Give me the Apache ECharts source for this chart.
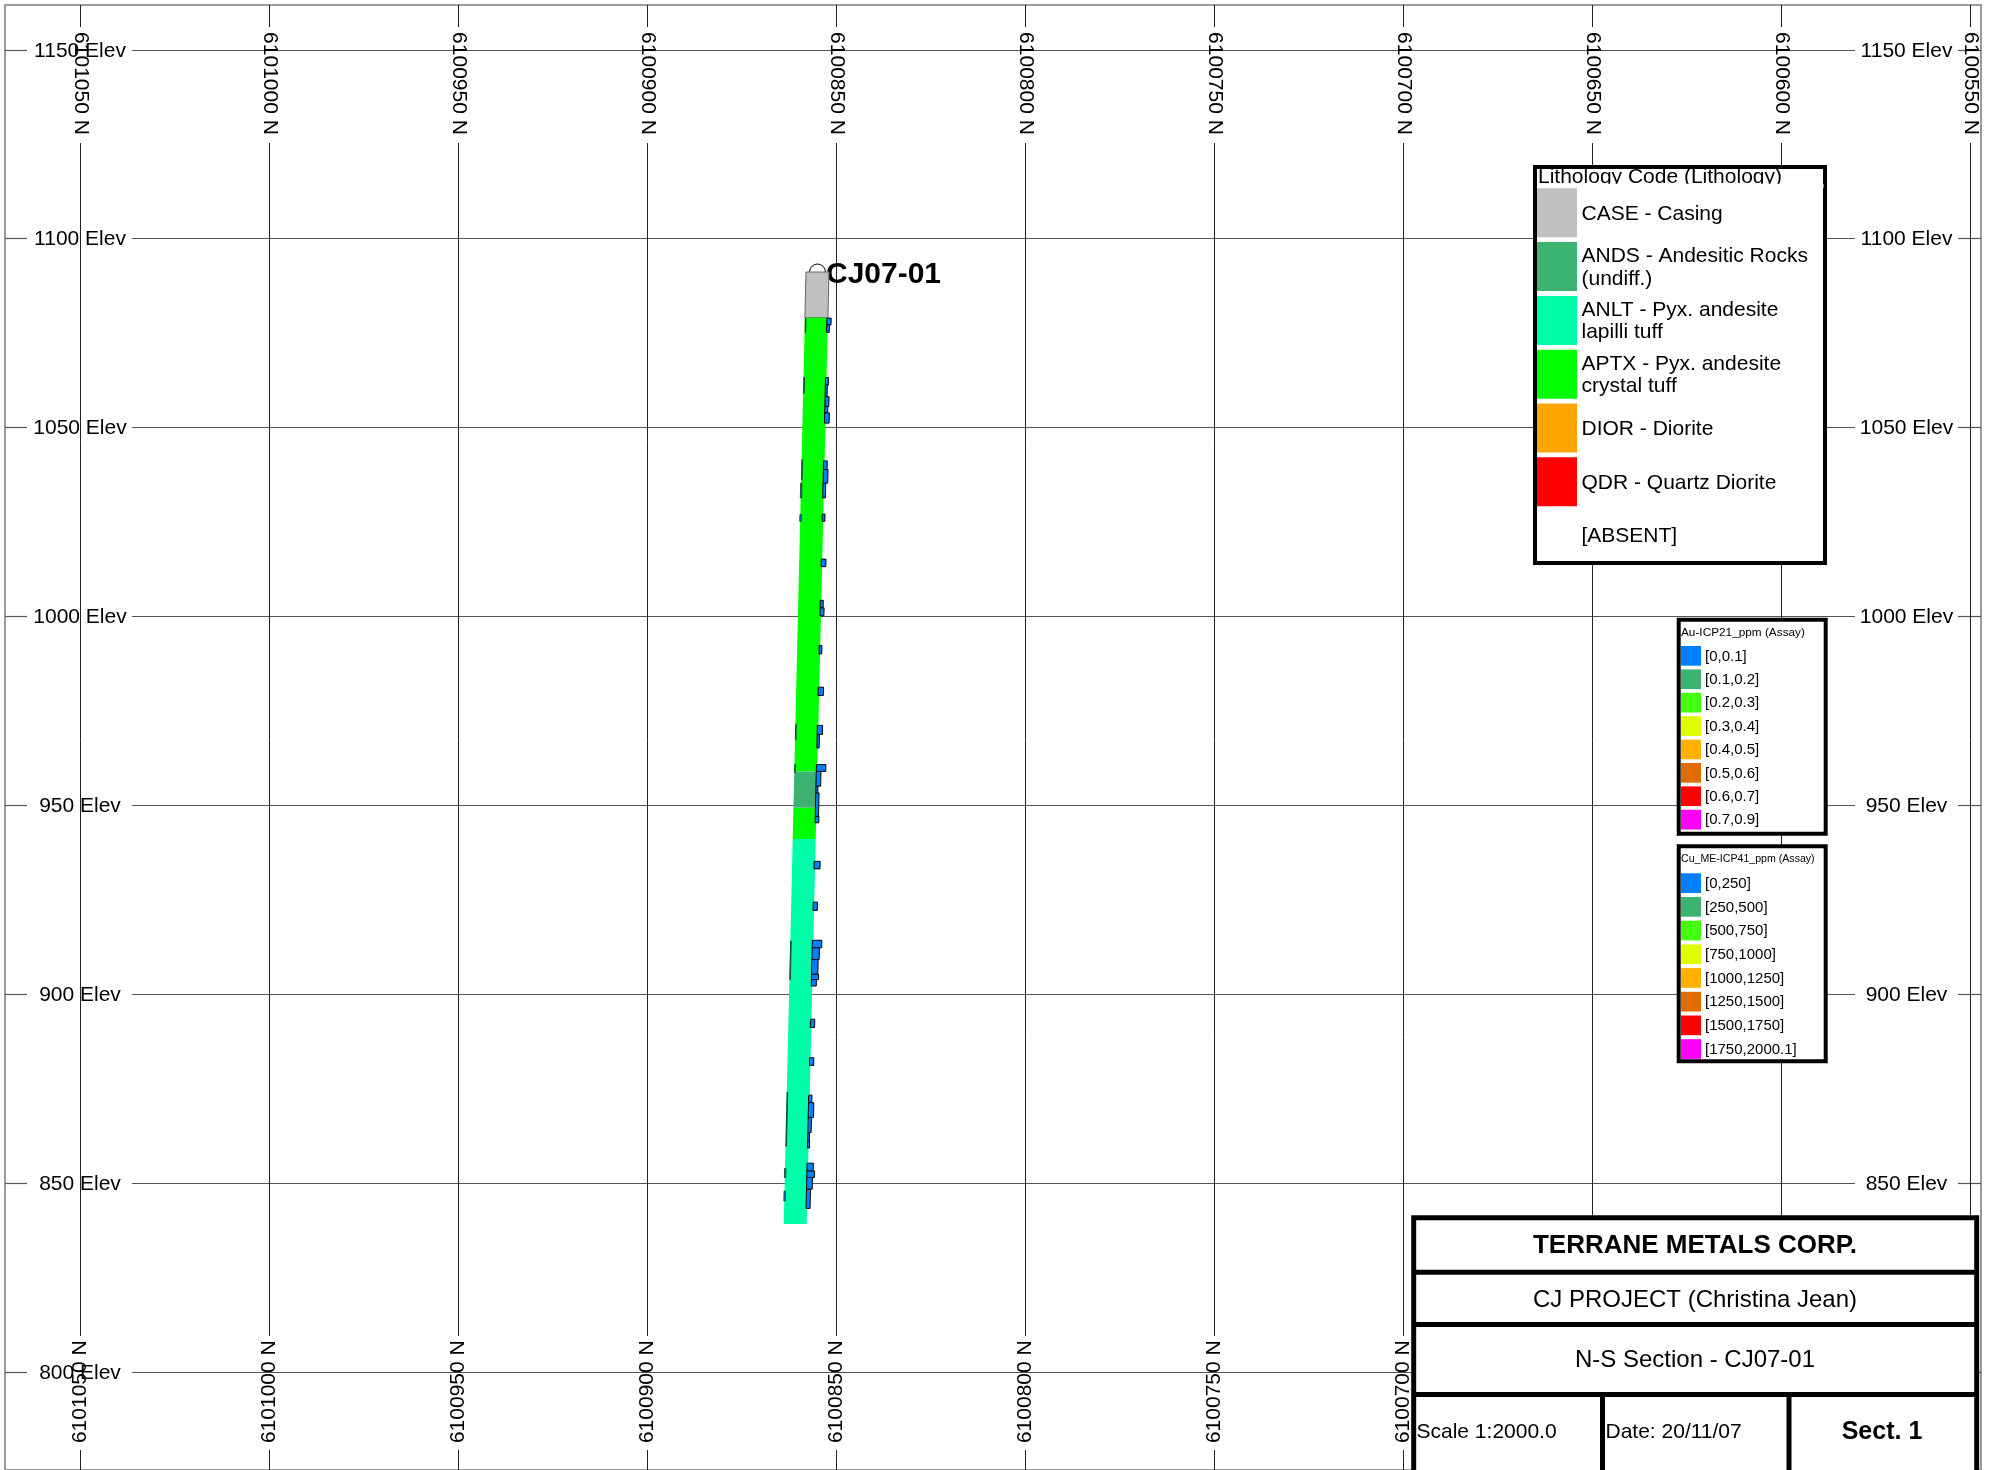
<!DOCTYPE html>
<html>
<head>
<meta charset="utf-8">
<title>N-S Section - CJ07-01</title>
<script src="https://cdn.jsdelivr.net/npm/echarts@6/dist/echarts.min.js"></script>
<style>
html,body{margin:0;padding:0;background:#fff;}
#chart{width:1991px;height:1470px;}
</style>
</head>
<body>
<div id="chart"></div>
<script>
// ---------- axes / section grid ----------
const northTicks = [6101050, 6101000, 6100950, 6100900, 6100850, 6100800, 6100750, 6100700, 6100650, 6100600, 6100550];
const northTickLabels = ['6101050 N', '6101000 N', '6100950 N', '6100900 N', '6100850 N', '6100800 N', '6100750 N', '6100700 N', '6100650 N', '6100600 N', '6100550 N'];
const elevTicks = [1150, 1100, 1050, 1000, 950, 900, 850, 800];
const elevTickLabels = ['1150 Elev', '1100 Elev', '1050 Elev', '1000 Elev', '950 Elev', '900 Elev', '850 Elev', '800 Elev'];
const northRange = [6100547.09, 6101069.84];
const elevRange = [773.98, 1161.78];

// ---------- drill hole ----------
const holeName = 'CJ07-01';
const holeCollar = [6100854.9, 1091.1];   // [northing, elevation]
const holeToe = [6100860.8, 839.1];

// ---------- lithology ----------
const lithoCodes = ['CASE', 'ANDS', 'ANLT', 'APTX', 'DIOR', 'QDR', 'ABSENT'];
const lithoLabels = ['CASE - Casing', 'ANDS - Andesitic Rocks\n(undiff.)', 'ANLT - Pyx. andesite\nlapilli tuff', 'APTX - Pyx. andesite\ncrystal tuff', 'DIOR - Diorite', 'QDR - Quartz Diorite', '[ABSENT]'];
const lithoColors = ['#C0C0C0', '#3CB371', '#00FFAA', '#00FF00', '#FFA500', '#FF0000', '#FFFFFF'];
const lithoFrom = [1091.1, 1079.0, 958.9, 949.3, 941.0];
const lithoTo   = [1079.0, 958.9, 949.3, 941.0, 839.1];
const lithoCode = ['CASE', 'APTX', 'ANDS', 'APTX', 'ANLT'];

// ---------- Au assays (ppm), drawn right of trace ----------
const auFrom = [1078.9, 1077.1, 1063.2, 1061.2, 1058.1, 1055.5, 1053.8, 1041.1, 1038.8, 1035.2, 1027.0, 1015.1, 1004.2, 1002.2, 992.2, 981.2, 971.1, 968.7, 960.7, 958.9, 955.0, 953.2, 947.0, 935.1, 924.3, 914.2, 912.2, 909.1, 905.2, 903.8, 893.3, 883.1, 873.2, 871.2, 867.3, 863.3, 861.1, 855.2, 853.1, 851.4, 848.3];
const auTo   = [1077.1, 1075.1, 1061.2, 1058.1, 1055.5, 1053.8, 1051.1, 1038.8, 1035.2, 1031.3, 1025.1, 1013.1, 1002.2, 1000.1, 990.0, 979.0, 968.7, 965.1, 958.9, 955.0, 953.2, 947.0, 945.3, 933.1, 922.1, 912.2, 909.1, 905.2, 903.8, 902.1, 891.1, 881.1, 871.2, 867.3, 863.3, 861.1, 859.2, 853.1, 851.4, 848.3, 843.2];
const auValue = [0.043, 0.027, 0.030, 0.020, 0.040, 0.030, 0.047, 0.037, 0.047, 0.027, 0.027, 0.047, 0.030, 0.040, 0.027, 0.053, 0.053, 0.023, 0.095, 0.047, 0.020, 0.033, 0.037, 0.060, 0.043, 0.095, 0.073, 0.063, 0.070, 0.050, 0.043, 0.043, 0.033, 0.053, 0.033, 0.017, 0.020, 0.063, 0.077, 0.057, 0.040];

// ---------- Cu assays (ppm), drawn left of trace ----------
const cuFrom = [1078.9, 1063.2, 1041.4, 1035.2, 1026.9, 971.3, 960.7, 914.0, 874.0, 853.8, 847.8];
const cuTo   = [1075.1, 1059.0, 1036.1, 1031.3, 1025.1, 967.3, 958.6, 903.8, 859.7, 851.4, 845.2];
const cuValue = [35, 50, 50, 100, 100, 50, 45, 50, 50, 100, 100];

// ---------- legend classes ----------
const auBinLabels = ['[0,0.1]', '[0.1,0.2]', '[0.2,0.3]', '[0.3,0.4]', '[0.4,0.5]', '[0.5,0.6]', '[0.6,0.7]', '[0.7,0.9]'];
const auBinEdges = [0, 0.1, 0.2, 0.3, 0.4, 0.5, 0.6, 0.7, 0.9];
const cuBinLabels = ['[0,250]', '[250,500]', '[500,750]', '[750,1000]', '[1000,1250]', '[1250,1500]', '[1500,1750]', '[1750,2000.1]'];
const cuBinEdges = [0, 250, 500, 750, 1000, 1250, 1500, 1750, 2000.1];
const binColors = ['#0080FF', '#3CB371', '#44FF10', '#DDFF00', '#FFB000', '#E06C00', '#FF0000', '#FF00FF'];

// ---------- title block ----------
const titleCompany = 'TERRANE METALS CORP.';
const titleProject = 'CJ PROJECT (Christina Jean)';
const titleSection = 'N-S Section - CJ07-01';
const titleScale = 'Scale 1:2000.0';
const titleDate = 'Date: 20/11/07';
const titleSect = 'Sect. 1';

// ================= styling constants =================
const FONT = "'Liberation Sans', Arial, Helvetica, sans-serif";
const BAND_HALF = 11.5;          // px half width of lithology band
const AU_PX_PER_PPM = 100;
const CU_PX_PER_PPM = 0.014;
const H_GAPS = [[27, 132], [1855, 1958]];
const H_LABEL_X = [80, 1906.5];
const V_GAPS = [[27, 143], [1336, 1450]];
const V_LABEL_Y = [83.5, 1391.7];

function traceN(e) {
  return holeCollar[0] + (holeCollar[1] - e) / (holeCollar[1] - holeToe[1]) * (holeToe[0] - holeCollar[0]);
}
function binColor(v, edges) {
  for (let i = 0; i < edges.length - 1; i++) {
    if (v >= edges[i] && v <= edges[i + 1]) return binColors[i];
  }
  return binColors[binColors.length - 1];
}
function segmentsBetween(a, b, gaps) {
  const out = [];
  let s = a;
  gaps.forEach(g => { if (g[0] > s) out.push([s, g[0]]); s = Math.max(s, g[1]); });
  if (b > s) out.push([s, b]);
  return out;
}
function tstyle(text, size, extra, weight) {
  return Object.assign({
    text: text, fill: '#000', font: (weight ? weight + ' ' : '') + size + 'px ' + FONT,
    align: 'left', verticalAlign: 'middle', textAlign: 'left', textVerticalAlign: 'middle'
  }, extra || {});
}

const chart = echarts.init(document.getElementById('chart'), null, { renderer: 'canvas' });

// ----- graphic: legends and title block -----
const G = [];
const Z = 100;
function grect(x, y, w, h, style, z) { G.push({ type: 'rect', z: z || Z, shape: { x: x, y: y, width: w, height: h }, style: style }); }
function gtext(x, y, text, size, extra, z, weight) { G.push({ type: 'text', z: z || Z + 2, x: x, y: y, style: tstyle(text, size, extra, weight) }); }
function gline(x1, y1, x2, y2, w) { G.push({ type: 'line', z: Z + 1, shape: { x1: x1, y1: y1, x2: x2, y2: y2 }, style: { stroke: '#000', lineWidth: w } }); }
const CENTER = { align: 'center', textAlign: 'center' };

// Lithology legend
grect(1535, 167, 290, 396, { fill: '#fff', stroke: '#000', lineWidth: 4 });
gtext(1538, 177, 'Lithology Code (Lithology)', 21);
grect(1537.5, 183.8, 286, 4.4, { fill: '#fff' }, Z + 3);
lithoCodes.forEach((c, i) => {
  const top = 188.3 + i * 53.8;
  grect(1537, top, 40, 49, { fill: lithoColors[i] }, Z + 4);
  gtext(1581.5, top + 25.5, lithoLabels[i], 21, { lineHeight: 22.6 }, Z + 4);
});

// Au legend
grect(1678.7, 619.7, 147, 214, { fill: '#fff', stroke: '#000', lineWidth: 4 });
gtext(1681, 632.5, 'Au-ICP21_ppm (Assay)', 11.8);
auBinLabels.forEach((l, i) => {
  const top = 646 + i * 23.4;
  grect(1681, top, 20, 19.7, { fill: binColors[i] }, Z + 2);
  gtext(1705, top + 10.5, l, 15);
});

// Cu legend
grect(1678.7, 846.3, 147, 215, { fill: '#fff', stroke: '#000', lineWidth: 4 });
gtext(1681, 859.5, 'Cu_ME-ICP41_ppm (Assay)', 10.6);
cuBinLabels.forEach((l, i) => {
  const top = 873.3 + i * 23.7;
  grect(1681, top, 20, 19.7, { fill: binColors[i] }, Z + 2);
  gtext(1705, top + 10.5, l, 15);
});

// Title block
grect(1413.7, 1217.8, 563, 262, { fill: '#fff', stroke: '#000', lineWidth: 5 });
gline(1413.7, 1272.2, 1976.7, 1272.2, 5);
gline(1413.7, 1324.6, 1976.7, 1324.6, 5);
gline(1413.7, 1394.6, 1976.7, 1394.6, 5);
gline(1602.5, 1394.6, 1602.5, 1475, 5);
gline(1789, 1394.6, 1789, 1475, 5);
gtext(1695, 1246, titleCompany, 26, CENTER, null, 'bold');
gtext(1695, 1300.5, titleProject, 24, CENTER);
gtext(1695, 1360.5, titleSection, 24, CENTER);
gtext(1416.5, 1432, titleScale, 21);
gtext(1605.5, 1432, titleDate, 21);
gtext(1882, 1432.5, titleSect, 25, CENTER, null, 'bold');

const option = {
  animation: false,
  backgroundColor: '#ffffff',
  grid: { left: 5, top: 5, right: 10, bottom: 0, show: true, borderColor: '#9a9a9a', borderWidth: 2, backgroundColor: 'transparent', containLabel: false },
  xAxis: { type: 'value', min: northRange[0], max: northRange[1], inverse: true, show: false, splitLine: { show: false } },
  yAxis: { type: 'value', min: elevRange[0], max: elevRange[1], show: false, splitLine: { show: false } },
  graphic: { elements: G },
  series: [
    { // elevation grid lines + labels
      type: 'custom', z: 1, silent: true, clip: false,
      data: elevTicks.map((v, i) => [i, v]),
      renderItem: function (params, api) {
        const cs = params.coordSys;
        const y = Math.round(api.coord([northRange[0], api.value(1)])[1]) + 0.5;
        const ch = segmentsBetween(cs.x, cs.x + cs.width, H_GAPS).map(s => ({
          type: 'line', shape: { x1: s[0], y1: y, x2: s[1], y2: y }, style: { stroke: '#555', lineWidth: 1.2 }
        }));
        H_LABEL_X.forEach(x => ch.push({ type: 'text', x: x, y: y + 1, style: tstyle(elevTickLabels[params.dataIndex], 21, CENTER) }));
        return { type: 'group', children: ch };
      }
    },
    { // northing grid lines + labels
      type: 'custom', z: 1, silent: true, clip: false,
      data: northTicks.map((v, i) => [v, i]),
      renderItem: function (params, api) {
        const cs = params.coordSys;
        const x = Math.round(api.coord([api.value(0), elevRange[0]])[0]) + 0.5;
        const ch = segmentsBetween(cs.y, cs.y + cs.height + 5, V_GAPS).map(s => ({
          type: 'line', shape: { x1: x, y1: s[0], x2: x, y2: s[1] }, style: { stroke: '#222', lineWidth: 1 }
        }));
        const lab = northTickLabels[params.dataIndex];
        ch.push({ type: 'text', x: x, y: V_LABEL_Y[0], rotation: -Math.PI / 2, style: tstyle(lab, 21, CENTER) });
        ch.push({ type: 'text', x: x, y: V_LABEL_Y[1], rotation: Math.PI / 2, style: tstyle(lab, 21, CENTER) });
        return { type: 'group', children: ch };
      }
    },
    { // collar symbol + hole name
      type: 'scatter', z: 2, silent: true,
      data: [holeCollar],
      symbol: 'circle', symbolSize: 16,
      itemStyle: { color: '#ffffff', borderColor: '#000', borderWidth: 1, opacity: 1 },
      label: { show: true, position: 'right', distance: 1, offset: [-1, 3], formatter: holeName, color: '#000', opacity: 1, fontFamily: FONT, fontWeight: 'bold', fontSize: 30 }
    },
    { // lithology band
      type: 'custom', z: 3, silent: true,
      data: lithoFrom.map((f, i) => [f, lithoTo[i], lithoCodes.indexOf(lithoCode[i])]),
      renderItem: function (params, api) {
        const f = api.value(0), t = api.value(1), ci = api.value(2);
        const a = api.coord([traceN(f), f]), b = api.coord([traceN(t), t]);
        return {
          type: 'polygon',
          shape: { points: [[a[0] - BAND_HALF, a[1]], [a[0] + BAND_HALF, a[1]], [b[0] + BAND_HALF, b[1]], [b[0] - BAND_HALF, b[1]]] },
          style: { fill: lithoColors[ci], stroke: lithoCodes[ci] === 'CASE' ? '#666' : null, lineWidth: 1 }
        };
      }
    },
    { // Au histogram (right)
      type: 'custom', z: 4, silent: true,
      data: auFrom.map((f, i) => [f, auTo[i], auValue[i]]),
      renderItem: function (params, api) {
        const f = api.value(0), t = api.value(1), v = api.value(2);
        const a = api.coord([traceN(f), f]), b = api.coord([traceN(t), t]);
        const w = v * AU_PX_PER_PPM;
        const ia = a[0] + BAND_HALF - 1, ib = b[0] + BAND_HALF - 1;
        return {
          type: 'polygon',
          shape: { points: [[ia, a[1]], [ia + w, a[1]], [ib + w, b[1]], [ib, b[1]]] },
          style: { fill: binColor(v, auBinEdges), stroke: '#000', lineWidth: 1 }
        };
      }
    },
    { // Cu histogram (left)
      type: 'custom', z: 4, silent: true,
      data: cuFrom.map((f, i) => [f, cuTo[i], cuValue[i]]),
      renderItem: function (params, api) {
        const f = api.value(0), t = api.value(1), v = api.value(2);
        const a = api.coord([traceN(f), f]), b = api.coord([traceN(t), t]);
        const w = v * CU_PX_PER_PPM;
        const ia = a[0] - BAND_HALF + 1, ib = b[0] - BAND_HALF + 1;
        return {
          type: 'polygon',
          shape: { points: [[ia, a[1]], [ia - w, a[1]], [ib - w, b[1]], [ib, b[1]]] },
          style: { fill: binColor(v, cuBinEdges), stroke: '#1a3a1a', lineWidth: 0.8 }
        };
      }
    }
  ]
};
chart.setOption(option);
</script>
</body>
</html>
